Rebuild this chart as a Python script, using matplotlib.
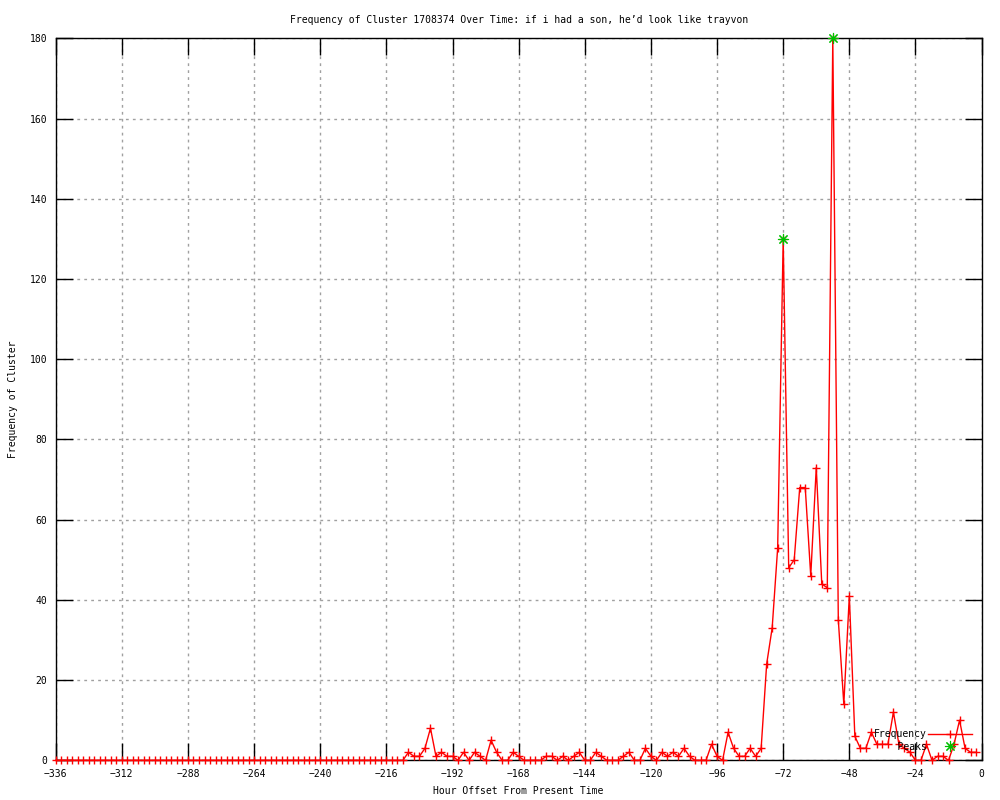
import numpy as np
import matplotlib
matplotlib.use('Agg')
import matplotlib.pyplot as plt

plt.rcParams['font.family'] = ['DejaVu Sans Mono']
plt.rcParams['font.size'] = 7

# hours before present, one sample every 2 hours
hours = np.arange(-336, 0, 2)

# frequency per 2h bin (-336 .. -2)
frequency = [
    0, 0, 0, 0, 0, 0, 0, 0, 0, 0, 0, 0, 0, 0, 0, 0,      # -336 .. -306
    0, 0, 0, 0, 0, 0, 0, 0, 0, 0, 0, 0, 0, 0, 0, 0,      # -304 .. -274
    0, 0, 0, 0, 0, 0, 0, 0, 0, 0, 0, 0, 0, 0, 0, 0,      # -272 .. -242
    0, 0, 0, 0, 0, 0, 0, 0, 0, 0, 0, 0, 0, 0, 0, 0,      # -240 .. -210
    2, 1, 1, 3, 8, 1, 2, 1, 1, 0, 2, 0, 2, 1, 0, 5,      # -208 .. -178
    2, 0, 0, 2, 1, 0, 0, 0, 0, 1, 1, 0, 1, 0, 1, 2,      # -176 .. -146
    0, 0, 2, 1, 0, 0, 0, 1, 2, 0, 0, 3, 1, 0, 2, 1,      # -144 .. -114
    2, 1, 3, 1, 0, 0, 0, 4, 1, 0, 7, 3, 1, 1, 3, 1,      # -112 .. -82
    3, 24, 33, 53, 130, 48, 50, 68, 68, 46, 73, 44, 43, 180, 35, 14,  # -80 .. -50
    41, 6, 3, 3, 7, 4, 4, 4, 12, 4, 3, 2, 0, 0, 4, 0,   # -48 .. -18
    1, 1, 0, 4, 10, 3, 2, 2,                              # -16 .. -2
]

peak_hours = [-72, -54]
peak_values = [130, 180]

fig = plt.figure(figsize=(10, 8), dpi=100)
ax = fig.add_axes([0.0557, 0.0496, 0.9259, 0.9025])

ax.plot(hours, frequency, color='red', linewidth=1, marker='+', markersize=6,
        markeredgewidth=1, label='Frequency', clip_on=False, zorder=5)
# monospace font, so leading spaces right-align the key text like gnuplot
ax.plot(peak_hours, peak_values, linestyle='none', color='#00c000',
        marker=(8, 2, 0), markersize=8, markeredgewidth=0.8, label='    Peaks',
        clip_on=False, zorder=6)

ax.set_xlim(-336, 0)
ax.set_ylim(0, 180)
ax.set_xticks(np.arange(-336, 1, 24))
ax.set_yticks(np.arange(0, 181, 20))
ax.tick_params(direction='in', length=12, width=1, top=True, right=True,
               colors='black', labelsize=7, pad=6)
ax.grid(True, color='#a0a0a0', linestyle=(0, (2, 3)), linewidth=1)
for s in ax.spines.values():
    s.set_linewidth(1)

ax.set_title('Frequency of Cluster 1708374 Over Time: if i had a son, he\u2019d look like trayvon',
             fontsize=7, pad=11)
ax.set_xlabel('Hour Offset From Present Time', fontsize=7)
ax.set_ylabel('Frequency of Cluster', fontsize=7)
ax.xaxis.set_label_coords(0.5, -0.036)
ax.yaxis.set_label_coords(-0.041, 0.5)

ax.legend(loc='lower right', bbox_to_anchor=(0.999, 0.0), frameon=False,
          markerfirst=False, handlelength=4.5, handletextpad=0.1,
          labelspacing=0.25, borderpad=0.4, fontsize=7)

plt.savefig('out.png')
